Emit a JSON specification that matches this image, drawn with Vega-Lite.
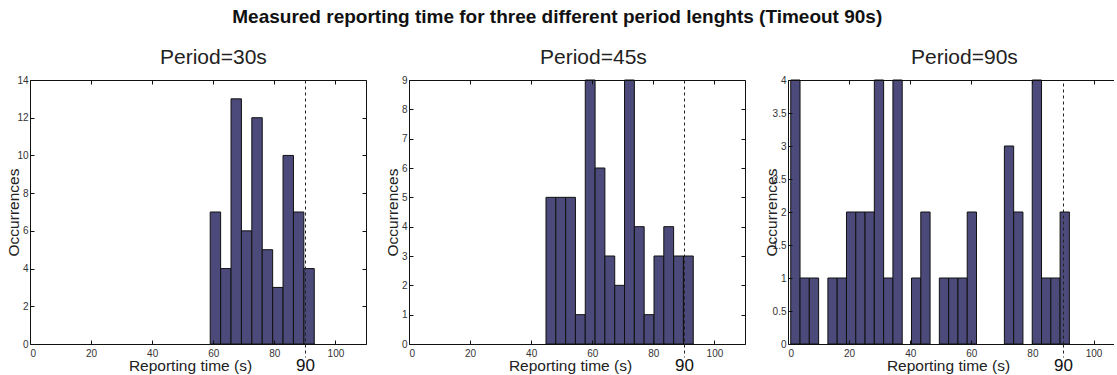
{
  "$schema": "https://vega.github.io/schema/vega-lite/v6.json",
  "padding": {"left": 6, "top": 8, "right": 0, "bottom": 0},
  "spacing": 18,
  "title": {"text": "Measured reporting time for three different period lenghts (Timeout 90s)", "fontSize": 19, "fontWeight": "bold", "anchor": "middle", "offset": 20, "dx": -3, "color": "#111"},
  "data": {"values": [
    {"panel": "30s", "bin_start": 59.0, "bin_end": 62.41, "count": 7},
    {"panel": "30s", "bin_start": 62.41, "bin_end": 65.81, "count": 4},
    {"panel": "30s", "bin_start": 65.81, "bin_end": 69.22, "count": 13},
    {"panel": "30s", "bin_start": 69.22, "bin_end": 72.62, "count": 6},
    {"panel": "30s", "bin_start": 72.62, "bin_end": 76.03, "count": 12},
    {"panel": "30s", "bin_start": 76.03, "bin_end": 79.44, "count": 5},
    {"panel": "30s", "bin_start": 79.44, "bin_end": 82.84, "count": 3},
    {"panel": "30s", "bin_start": 82.84, "bin_end": 86.25, "count": 10},
    {"panel": "30s", "bin_start": 86.25, "bin_end": 89.65, "count": 7},
    {"panel": "30s", "bin_start": 89.65, "bin_end": 93.06, "count": 4},
    {"panel": "45s", "bin_start": 44.85, "bin_end": 48.06, "count": 5},
    {"panel": "45s", "bin_start": 48.06, "bin_end": 51.28, "count": 5},
    {"panel": "45s", "bin_start": 51.28, "bin_end": 54.49, "count": 5},
    {"panel": "45s", "bin_start": 54.49, "bin_end": 57.71, "count": 1},
    {"panel": "45s", "bin_start": 57.71, "bin_end": 60.92, "count": 9},
    {"panel": "45s", "bin_start": 60.92, "bin_end": 64.13, "count": 6},
    {"panel": "45s", "bin_start": 64.13, "bin_end": 67.35, "count": 3},
    {"panel": "45s", "bin_start": 67.35, "bin_end": 70.56, "count": 2},
    {"panel": "45s", "bin_start": 70.56, "bin_end": 73.78, "count": 9},
    {"panel": "45s", "bin_start": 73.78, "bin_end": 76.99, "count": 4},
    {"panel": "45s", "bin_start": 76.99, "bin_end": 80.21, "count": 1},
    {"panel": "45s", "bin_start": 80.21, "bin_end": 83.42, "count": 3},
    {"panel": "45s", "bin_start": 83.42, "bin_end": 86.63, "count": 4},
    {"panel": "45s", "bin_start": 86.63, "bin_end": 89.85, "count": 3},
    {"panel": "45s", "bin_start": 89.85, "bin_end": 93.06, "count": 3},
    {"panel": "90s", "bin_start": 0.9, "bin_end": 3.94, "count": 4},
    {"panel": "90s", "bin_start": 3.94, "bin_end": 6.98, "count": 1},
    {"panel": "90s", "bin_start": 6.98, "bin_end": 10.02, "count": 1},
    {"panel": "90s", "bin_start": 13.06, "bin_end": 16.1, "count": 1},
    {"panel": "90s", "bin_start": 16.1, "bin_end": 19.14, "count": 1},
    {"panel": "90s", "bin_start": 19.14, "bin_end": 22.18, "count": 2},
    {"panel": "90s", "bin_start": 22.18, "bin_end": 25.22, "count": 2},
    {"panel": "90s", "bin_start": 25.22, "bin_end": 28.26, "count": 2},
    {"panel": "90s", "bin_start": 28.26, "bin_end": 31.3, "count": 4},
    {"panel": "90s", "bin_start": 31.3, "bin_end": 34.34, "count": 1},
    {"panel": "90s", "bin_start": 34.34, "bin_end": 37.38, "count": 4},
    {"panel": "90s", "bin_start": 40.42, "bin_end": 43.46, "count": 1},
    {"panel": "90s", "bin_start": 43.46, "bin_end": 46.5, "count": 2},
    {"panel": "90s", "bin_start": 49.54, "bin_end": 52.58, "count": 1},
    {"panel": "90s", "bin_start": 52.58, "bin_end": 55.62, "count": 1},
    {"panel": "90s", "bin_start": 55.62, "bin_end": 58.66, "count": 1},
    {"panel": "90s", "bin_start": 58.66, "bin_end": 61.7, "count": 2},
    {"panel": "90s", "bin_start": 70.82, "bin_end": 73.86, "count": 3},
    {"panel": "90s", "bin_start": 73.86, "bin_end": 76.9, "count": 2},
    {"panel": "90s", "bin_start": 79.94, "bin_end": 82.98, "count": 4},
    {"panel": "90s", "bin_start": 82.98, "bin_end": 86.02, "count": 1},
    {"panel": "90s", "bin_start": 86.02, "bin_end": 89.06, "count": 1},
    {"panel": "90s", "bin_start": 89.06, "bin_end": 92.1, "count": 2}
  ]},
  "hconcat": [
    {
      "title": {"text": "Period=30s", "fontSize": 21, "fontWeight": "normal", "offset": -14, "baseline": "bottom", "color": "#222", "anchor": "start", "frame": "group", "dx": 130},
      "width": 336, "height": 264,
      "transform": [{"filter": {"field": "panel", "equal": "30s"}}],
      "layer": [
        {"mark": {"type": "bar", "fill": "#4b4a7a", "stroke": "#111", "strokeWidth": 1},
         "encoding": {
           "x": {"field": "bin_start", "type": "quantitative", "scale": {"domain": [0, 110], "nice": false, "zero": false},
                 "axis": {"orient": "bottom", "values": [0, 20, 40, 60, 80, 100], "format": "~f", "tickSize": -4, "labelPadding": 8, "title": "Reporting time (s)", "titleX": 160, "titleY": 21, "titleBaseline": "middle", "titleAlign": "center", "zindex": 1}},
           "x2": {"field": "bin_end"},
           "y": {"field": "count", "type": "quantitative", "scale": {"domain": [0, 14], "nice": false},
                 "axis": {"orient": "left", "values": [0, 2, 4, 6, 8, 10, 12, 14], "format": "~f", "tickSize": -4, "labelPadding": 6, "title": "Occurrences", "titleX": -16.5, "titleY": 132, "titleAngle": -90, "titleBaseline": "middle", "titleAlign": "center", "zindex": 1}},
           "y2": {"datum": 0}
         }},
        {"mark": {"type": "point", "opacity": 0},
         "encoding": {
           "x": {"field": "bin_start", "type": "quantitative", "scale": {"domain": [0, 110], "nice": false, "zero": false},
                 "axis": {"orient": "top", "values": [0, 20, 40, 60, 80, 100], "tickSize": -4, "labels": false, "title": null, "zindex": 1}},
           "y": {"field": "count", "type": "quantitative", "scale": {"domain": [0, 14], "nice": false},
                 "axis": {"orient": "right", "values": [0, 2, 4, 6, 8, 10, 12, 14], "tickSize": -4, "labels": false, "title": null, "zindex": 1}}
         }},
        {"mark": {"type": "point", "opacity": 0},
         "encoding": {
           "x": {"field": "bin_start", "type": "quantitative", "scale": {"domain": [0, 110], "nice": false, "zero": false},
                 "axis": {"orient": "bottom", "values": [90], "domain": false, "grid": true, "gridDash": [3, 3], "gridColor": "#222", "gridWidth": 1, "tickSize": 13, "tickDash": [3, 3], "tickColor": "#222", "labelFontSize": 17, "labelColor": "#111", "labelPadding": 0, "title": null, "zindex": 2}},
           "y": {"field": "count", "type": "quantitative", "scale": {"domain": [0, 14], "nice": false}, "axis": null}
         }}
      ],
      "resolve": {"axis": {"x": "independent", "y": "independent"}}
    },
    {
      "title": {"text": "Period=45s", "fontSize": 21, "fontWeight": "normal", "offset": -14, "baseline": "bottom", "color": "#222", "anchor": "start", "frame": "group", "dx": 131},
      "width": 336, "height": 264,
      "transform": [{"filter": {"field": "panel", "equal": "45s"}}],
      "layer": [
        {"mark": {"type": "bar", "fill": "#4b4a7a", "stroke": "#111", "strokeWidth": 1},
         "encoding": {
           "x": {"field": "bin_start", "type": "quantitative", "scale": {"domain": [0, 110], "nice": false, "zero": false},
                 "axis": {"orient": "bottom", "values": [0, 20, 40, 60, 80, 100], "format": "~f", "tickSize": -4, "labelPadding": 8, "title": "Reporting time (s)", "titleX": 161, "titleY": 21, "titleBaseline": "middle", "titleAlign": "center", "zindex": 1}},
           "x2": {"field": "bin_end"},
           "y": {"field": "count", "type": "quantitative", "scale": {"domain": [0, 9], "nice": false},
                 "axis": {"orient": "left", "values": [0, 1, 2, 3, 4, 5, 6, 7, 8, 9], "format": "~f", "tickSize": -4, "labelPadding": 6, "title": "Occurrences", "titleX": -16.5, "titleY": 132, "titleAngle": -90, "titleBaseline": "middle", "titleAlign": "center", "zindex": 1}},
           "y2": {"datum": 0}
         }},
        {"mark": {"type": "point", "opacity": 0},
         "encoding": {
           "x": {"field": "bin_start", "type": "quantitative", "scale": {"domain": [0, 110], "nice": false, "zero": false},
                 "axis": {"orient": "top", "values": [0, 20, 40, 60, 80, 100], "tickSize": -4, "labels": false, "title": null, "zindex": 1}},
           "y": {"field": "count", "type": "quantitative", "scale": {"domain": [0, 9], "nice": false},
                 "axis": {"orient": "right", "values": [0, 1, 2, 3, 4, 5, 6, 7, 8, 9], "tickSize": -4, "labels": false, "title": null, "zindex": 1}}
         }},
        {"mark": {"type": "point", "opacity": 0},
         "encoding": {
           "x": {"field": "bin_start", "type": "quantitative", "scale": {"domain": [0, 110], "nice": false, "zero": false},
                 "axis": {"orient": "bottom", "values": [90], "domain": false, "grid": true, "gridDash": [3, 3], "gridColor": "#222", "gridWidth": 1, "tickSize": 13, "tickDash": [3, 3], "tickColor": "#222", "labelFontSize": 17, "labelColor": "#111", "labelPadding": 0, "title": null, "zindex": 2}},
           "y": {"field": "count", "type": "quantitative", "scale": {"domain": [0, 9], "nice": false}, "axis": null}
         }}
      ],
      "resolve": {"axis": {"x": "independent", "y": "independent"}}
    },
    {
      "title": {"text": "Period=90s", "fontSize": 21, "fontWeight": "normal", "offset": -14, "baseline": "bottom", "color": "#222", "anchor": "start", "frame": "group", "dx": 123},
      "width": 326, "height": 264,
      "transform": [{"filter": {"field": "panel", "equal": "90s"}}],
      "layer": [
        {"mark": {"type": "bar", "fill": "#4b4a7a", "stroke": "#111", "strokeWidth": 1},
         "encoding": {
           "x": {"field": "bin_start", "type": "quantitative", "scale": {"domain": [0, 106.7], "nice": false, "zero": false},
                 "axis": {"orient": "bottom", "values": [0, 20, 40, 60, 80, 100], "format": "~f", "tickSize": -4, "labelPadding": 8, "title": "Reporting time (s)", "titleX": 160, "titleY": 21, "titleBaseline": "middle", "titleAlign": "center", "zindex": 1}},
           "x2": {"field": "bin_end"},
           "y": {"field": "count", "type": "quantitative", "scale": {"domain": [0, 4], "nice": false},
                 "axis": {"orient": "left", "values": [0, 0.5, 1, 1.5, 2, 2.5, 3, 3.5, 4], "format": "~f", "tickSize": -4, "labelPadding": 6, "title": "Occurrences", "titleX": -16.5, "titleY": 132, "titleAngle": -90, "titleBaseline": "middle", "titleAlign": "center", "zindex": 1}},
           "y2": {"datum": 0}
         }},
        {"mark": {"type": "point", "opacity": 0},
         "encoding": {
           "x": {"field": "bin_start", "type": "quantitative", "scale": {"domain": [0, 106.7], "nice": false, "zero": false},
                 "axis": {"orient": "top", "values": [0, 20, 40, 60, 80, 100], "tickSize": -4, "labels": false, "title": null, "zindex": 1}}
         }},
        {"mark": {"type": "point", "opacity": 0},
         "encoding": {
           "x": {"field": "bin_start", "type": "quantitative", "scale": {"domain": [0, 106.7], "nice": false, "zero": false},
                 "axis": {"orient": "bottom", "values": [90], "domain": false, "grid": true, "gridDash": [3, 3], "gridColor": "#222", "gridWidth": 1, "tickSize": 13, "tickDash": [3, 3], "tickColor": "#222", "labelFontSize": 17, "labelColor": "#111", "labelPadding": 0, "title": null, "zindex": 2}}
         }}
      ],
      "resolve": {"axis": {"x": "independent", "y": "independent"}}
    }
  ],
  "config": {
    "font": "Liberation Sans",
    "view": {"stroke": null},
    "axis": {"grid": false, "domainColor": "#111", "domainWidth": 1, "tickColor": "#111", "labelColor": "#333", "labelFontSize": 10, "titleFontWeight": "normal", "titleColor": "#222", "titleFontSize": 15.5}
  }
}
